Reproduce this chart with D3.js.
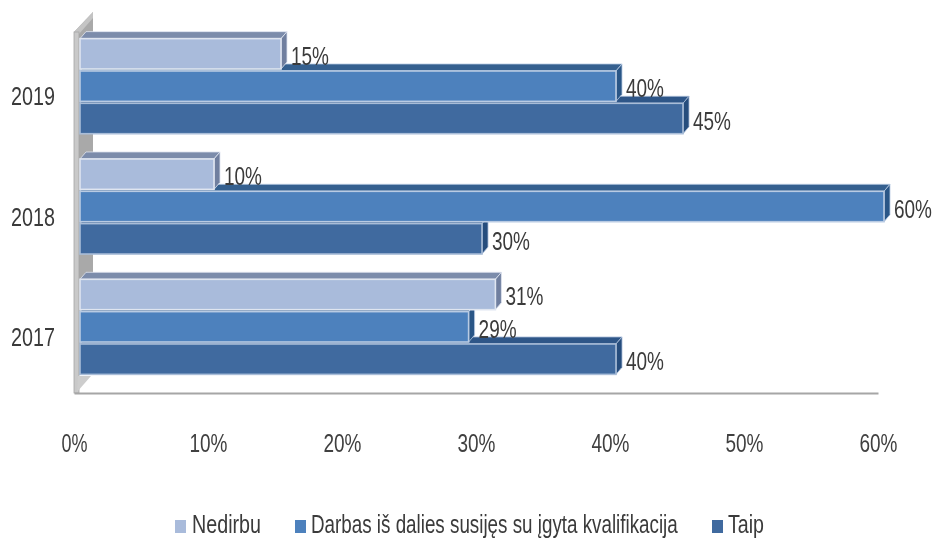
<!DOCTYPE html>
<html><head><meta charset="utf-8">
<script src="https://cdn.jsdelivr.net/npm/d3@7"></script>
<style>html,body{margin:0;padding:0;background:#fff}svg{display:block}
text{font-family:"Liberation Sans",sans-serif;fill:#3a3a3a}</style>
</head><body><svg id="c" width="938" height="540"></svg>
<script>
const years = ["2019","2018","2017"];
const seriesNames = ["Nedirbu","Darbas iš dalies susijęs su įgyta kvalifikacija","Taip"];
const nedirbu = [15,10,31];
const darbas = [40,60,29];
const taip = [45,30,40];
const xTicks = [0,10,20,30,40,50,60];
const valueSets = [nedirbu,darbas,taip];
const fronts = ["#a9bbdb","#4d81bd","#3f6a9f"];
const tops = ["#7c8cab","#35608f","#2d5688"];
const sides = ["#6f7f9f","#2b5687","#264d7d"];
const edges = ["#dfe5f0","#b9cbe3","#a9bdd8"];
const dx = 6, dy = 7, fs = 25;

const svg = d3.select("#c");
svg.append("defs").append("filter").attr("id","soft").append("feGaussianBlur").attr("stdDeviation",0.55);
const root = svg.append("g").attr("filter","url(#soft)");

// real text squeezed horizontally to the reference's narrow face
function label(parent,px,py,str,w,anchor){
  const t = parent.append("text").attr("font-size",fs).text(str);
  const sx = w / t.node().getComputedTextLength();
  const ox = anchor==="middle" ? px - w/2 : px;
  t.attr("transform",`translate(${ox},${py}) scale(${sx},1)`);
  return t;
}

const x = d3.scaleLinear().domain([0,60]).range([74,878]);
const y0 = d3.scaleBand().domain(years).range([26,387]).paddingInner(0.21).paddingOuter(0.105);
const y1 = d3.scaleBand().domain(d3.range(3)).range([0,y0.bandwidth()]).paddingInner(0.06);

// wall and floor
const wallTop = 32, floorY = 393;
root.append("path").attr("d",`M74,${wallTop}L93,12V375H79Z`).attr("fill","#a9a9a9");
root.append("path").attr("d",`M74,${wallTop}L93,12V18L79,34Z`).attr("fill","#c4c4c4");
root.append("rect").attr("x",74).attr("y",wallTop).attr("width",5).attr("height",floorY-wallTop).attr("fill","#c9c9c9").attr("stroke","#a5a5a5").attr("stroke-width",0.8);
root.append("path").attr("d",`M77,${floorY-1}L91,376H78Z`).attr("fill","#cdcdcd");

// axis: hide the generated labels' wide face by fitting them after the call
const axis = d3.axisBottom(x).tickValues(xTicks).tickSize(0).tickPadding(41).tickFormat(d=>d+"%");
const ax = root.append("g").attr("transform",`translate(0,${floorY})`).call(axis);
ax.select(".domain").attr("stroke","#a6a6a6").attr("stroke-width",2.2);
ax.selectAll("text").style("font-family",'"Liberation Sans",sans-serif').style("fill","#404040").attr("font-size",fs)
  .each(function(d){
    const w = d===0 ? 26 : 38;
    const sx = w/this.getComputedTextLength();
    d3.select(this).attr("text-anchor","start").attr("x",0).attr("dy",0).attr("y",0)
      .attr("transform",`translate(${-w/2},${41+18}) scale(${sx},1)`);
  });

// bars: lower series first so the upper bar hides the top face beneath it
const bx = v => x(v)+dx;
years.forEach((yr,gi)=>{
  [2,1,0].forEach(si=>{
    const top = y0(yr)+y1(si), h = y1.bandwidth(), v = valueSets[si][gi];
    const g = root.append("g");
    g.append("path").attr("d",`M${bx(0)},${top}L${bx(0)+dx},${top-dy}H${bx(v)+dx}L${bx(v)},${top}Z`)
      .attr("fill",tops[si]).attr("stroke",edges[si]).attr("stroke-width",0.8);
    g.append("path").attr("d",`M${bx(v)},${top}L${bx(v)+dx},${top-dy}V${top+h-dy}L${bx(v)},${top+h}Z`)
      .attr("fill",sides[si]).attr("stroke",edges[si]).attr("stroke-width",0.8);
    g.append("rect").attr("x",bx(0)).attr("y",top).attr("width",bx(v)-bx(0)).attr("height",h)
      .attr("fill",fronts[si]).attr("stroke",edges[si]).attr("stroke-width",1.6);
  });
});
// data labels
years.forEach((yr,gi)=>{
  valueSets.forEach((vals,si)=>{
    const top = y0(yr)+y1(si), h = y1.bandwidth(), v = vals[gi];
    label(root,bx(v)+dx+4,top+h/2+11,v+"%",38);
  });
});
// year labels
years.forEach(yr=>label(root,33,y0(yr)+y0.bandwidth()/2+19,yr,44,"middle"));
// legend
const legendBox = [175,295,712];
const legendText = [192,311,728];
const legendLen = [69,367,36];
seriesNames.forEach((n,i)=>{
  root.append("rect").attr("x",legendBox[i]).attr("y",520).attr("width",11).attr("height",13).attr("fill",fronts[i]);
  label(root,legendText[i],533,n,legendLen[i]);
});
</script></body></html>
